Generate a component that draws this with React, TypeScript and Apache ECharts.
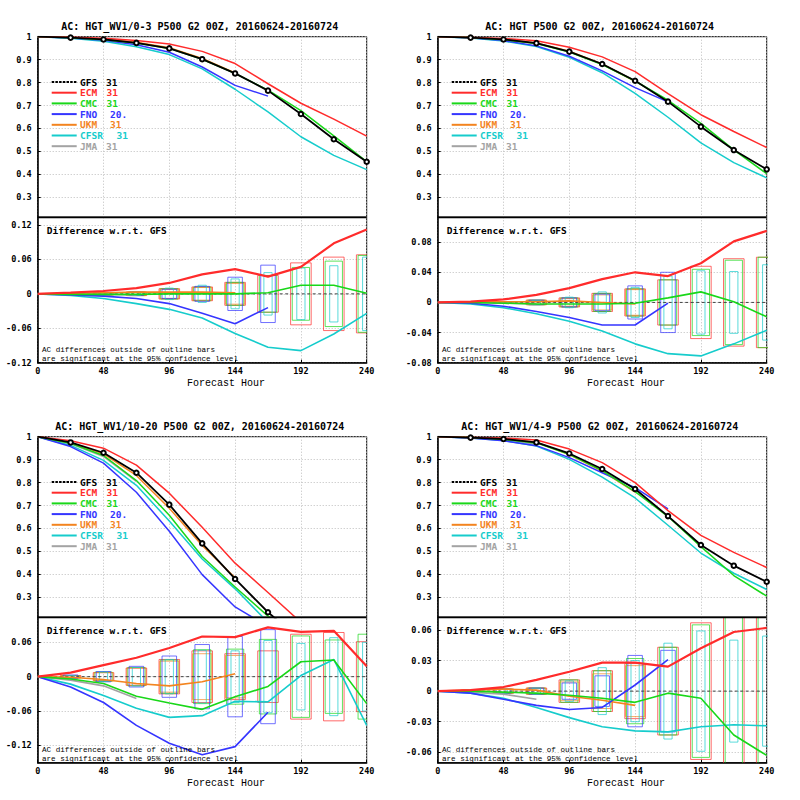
import React, { useEffect, useRef } from 'react';
import * as echarts from 'echarts';

// ---------------- data ----------------
const HOURS = [0, 24, 48, 72, 96, 120, 144, 168, 192, 216, 240];
const BOX_HOURS = [24, 48, 72, 96, 120, 144, 168, 192, 216, 240];
const AC_TICKS = [0.3, 0.4, 0.5, 0.6, 0.7, 0.8, 0.9, 1];
const CASE_COUNTS = ['31', '31', '31', '20.', '31', '31', '31'];
const MODEL_NAMES = ['GFS', 'ECM', 'CMC', 'FNO', 'UKM', 'CFSR', 'JMA'];

// Panel 1: HGT_WV1/0-3
const P1_TITLE = 'AC: HGT_WV1/0-3 P500 G2 00Z, 20160624-20160724';
const P1_GFS = [1, 0.996, 0.988, 0.973, 0.949, 0.902, 0.84, 0.765, 0.663, 0.553, 0.455];
const P1_ECM_DIFF = [0, 0.002, 0.005, 0.01, 0.019, 0.034, 0.043, 0.03, 0.047, 0.088, 0.112];
const P1_CMC_DIFF = [0, -0.001, -0.001, -0.001, 0, 0, 0, 0.002, 0.015, 0.015, 0.001];
const P1_FNO_DIFF = [0, -0.002, -0.004, -0.008, -0.017, -0.034, -0.052, -0.024];
const P1_UKM_DIFF = [0, 0.001, 0.002, 0.003, 0.003, 0.003, 0.002];
const P1_CFSR_DIFF = [0, -0.003, -0.008, -0.017, -0.027, -0.042, -0.069, -0.093, -0.099, -0.07, -0.034];
const P1_JMA_DIFF = [0, 0, -0.001, -0.002];
const P1_ECM_CONF = [0.001, 0.002, 0.003, 0.009, 0.012, 0.02, 0.032, 0.054, 0.064, 0.068];
const P1_CMC_CONF = [0.001, 0.002, 0.003, 0.009, 0.012, 0.02, 0.032, 0.046, 0.057, 0.067];
const P1_FNO_CONF = [0.001, 0.002, 0.003, 0.008, 0.013, 0.029, 0.05];
const P1_UKM_CONF = [0.001, 0.002, 0.003, 0.008, 0.011, 0.018];
const P1_CFSR_CONF = [0.001, 0.002, 0.003, 0.01, 0.015, 0.026, 0.037, 0.045, 0.049, 0.064];
const P1_DIFF_TICKS = [-0.12, -0.06, 0, 0.06, 0.12];

// Panel 2: HGT
const P2_TITLE = 'AC: HGT P500 G2 00Z, 20160624-20160724';
const P2_GFS = [1, 0.996, 0.988, 0.972, 0.935, 0.881, 0.808, 0.717, 0.608, 0.506, 0.422];
const P2_ECM_DIFF = [0, 0.001, 0.004, 0.01, 0.019, 0.031, 0.04, 0.035, 0.052, 0.081, 0.095];
const P2_CMC_DIFF = [0, 0, -0.001, -0.002, -0.002, -0.002, -0.001, 0.006, 0.014, 0.001, -0.019];
const P2_FNO_DIFF = [0, -0.001, -0.005, -0.012, -0.02, -0.03, -0.03, -0.001];
const P2_UKM_DIFF = [0, 0.001, 0.001, 0.001, 0.002, 0, -0.002];
const P2_CFSR_DIFF = [0, -0.002, -0.007, -0.015, -0.025, -0.038, -0.055, -0.068, -0.071, -0.055, -0.037];
const P2_JMA_DIFF = [0, 0, -0.001, -0.002];
const P2_ECM_CONF = [0.001, 0.001, 0.003, 0.006, 0.012, 0.018, 0.03, 0.048, 0.058, 0.06];
const P2_CMC_CONF = [0.001, 0.001, 0.003, 0.006, 0.012, 0.018, 0.03, 0.044, 0.056, 0.06];
const P2_FNO_CONF = [0.001, 0.001, 0.003, 0.006, 0.011, 0.022, 0.04];
const P2_UKM_CONF = [0.001, 0.001, 0.003, 0.005, 0.01, 0.017];
const P2_CFSR_CONF = [0.001, 0.001, 0.003, 0.007, 0.014, 0.02, 0.035, 0.042, 0.041, 0.05];
const P2_DIFF_TICKS = [-0.08, -0.04, 0, 0.04, 0.08];

// Panel 3: HGT_WV1/10-20
const P3_TITLE = 'AC: HGT_WV1/10-20 P500 G2 00Z, 20160624-20160724';
const P3_GFS = [1, 0.975, 0.93, 0.843, 0.704, 0.535, 0.38, 0.235, 0.113, 0.05, 0.01];
const P3_ECM_DIFF = [0, 0.007, 0.02, 0.033, 0.05, 0.07, 0.069, 0.086, 0.078, 0.08, 0.018];
const P3_CMC_DIFF = [0, -0.004, -0.012, -0.034, -0.046, -0.057, -0.035, -0.017, 0.026, 0.029, -0.047];
const P3_FNO_DIFF = [0, -0.018, -0.045, -0.085, -0.116, -0.136, -0.122, -0.062];
const P3_UKM_DIFF = [0, -0.001, -0.005, -0.012, -0.016, -0.009, 0.005];
const P3_CFSR_DIFF = [0, -0.013, -0.033, -0.055, -0.071, -0.068, -0.043, -0.044, 0.002, 0.03, -0.085];
const P3_JMA_DIFF = [0, -0.006, -0.016, -0.038];
const P3_ECM_CONF = [0.002, 0.007, 0.015, 0.03, 0.045, 0.04, 0.045, 0.074, 0.077, 0.061];
const P3_CMC_CONF = [0.002, 0.008, 0.016, 0.029, 0.047, 0.048, 0.065, 0.071, 0.064, 0.074];
const P3_FNO_CONF = [0.003, 0.009, 0.018, 0.036, 0.056, 0.07, 0.082];
const P3_UKM_CONF = [0.002, 0.007, 0.015, 0.027, 0.04, 0.037];
const P3_CFSR_CONF = [0.002, 0.008, 0.016, 0.03, 0.046, 0.045, 0.063, 0.058, 0.068, 0.06];
const P3_DIFF_TICKS = [-0.12, -0.06, 0, 0.06];

// Panel 4: HGT_WV1/4-9
const P4_TITLE = 'AC: HGT_WV1/4-9 P500 G2 00Z, 20160624-20160724';
const P4_GFS = [1, 0.996, 0.99, 0.975, 0.927, 0.859, 0.772, 0.654, 0.528, 0.438, 0.368];
const P4_ECM_DIFF = [0, 0.001, 0.004, 0.011, 0.019, 0.028, 0.028, 0.024, 0.042, 0.058, 0.062];
const P4_CMC_DIFF = [0, 0, -0.001, -0.002, -0.004, -0.007, -0.011, -0.002, -0.007, -0.043, -0.063];
const P4_FNO_DIFF = [0, -0.002, -0.008, -0.014, -0.018, -0.016, 0.006, 0.031];
const P4_UKM_DIFF = [0, 0.001, 0.002, 0.001, -0.005, -0.009, -0.014];
const P4_CFSR_DIFF = [0, -0.002, -0.007, -0.016, -0.026, -0.035, -0.039, -0.04, -0.035, -0.033, -0.034];
const P4_JMA_DIFF = [0, -0.001, -0.003, -0.008];
const P4_ECM_CONF = [0.001, 0.002, 0.003, 0.011, 0.02, 0.027, 0.043, 0.067, 0.12, 0.12];
const P4_CMC_CONF = [0.001, 0.002, 0.003, 0.011, 0.02, 0.032, 0.043, 0.065, 0.12, 0.12];
const P4_FNO_CONF = [0.001, 0.002, 0.003, 0.008, 0.015, 0.035, 0.04];
const P4_UKM_CONF = [0.001, 0.002, 0.003, 0.009, 0.017, 0.025];
const P4_CFSR_CONF = [0.001, 0.002, 0.003, 0.01, 0.023, 0.03, 0.047, 0.059, 0.05, 0.054];
const P4_DIFF_TICKS = [-0.06, -0.03, 0, 0.03, 0.06];

// ---------------- styling / layout ----------------
const COLORS: Record<string, string> = {
  GFS: '#000000', ECM: '#ff2b2b', CMC: '#19d719', FNO: '#3535ff',
  UKM: '#f3841f', CFSR: '#16cccc', JMA: '#a3a3a3',
};
const BOX_HALF_W: Record<string, number> = { ECM: 7.5, UKM: 7, CMC: 6.3, FNO: 5.3, CFSR: 3 };
const COUNT_X = [106, 106.5, 106.5, 110, 110, 116.5, 106];

const PANELS = [
  { ox: 0, oy: 0, title: P1_TITLE, gfs: P1_GFS, acMin: 0.213, dMin: -0.12, dMax: 0.1334, dTicks: P1_DIFF_TICKS,
    diffs: { ECM: P1_ECM_DIFF, CMC: P1_CMC_DIFF, FNO: P1_FNO_DIFF, UKM: P1_UKM_DIFF, CFSR: P1_CFSR_DIFF, JMA: P1_JMA_DIFF },
    conf: { ECM: P1_ECM_CONF, CMC: P1_CMC_CONF, FNO: P1_FNO_CONF, UKM: P1_UKM_CONF, CFSR: P1_CFSR_CONF } },
  { ox: 400, oy: 0, title: P2_TITLE, gfs: P2_GFS, acMin: 0.213, dMin: -0.08, dMax: 0.113, dTicks: P2_DIFF_TICKS,
    diffs: { ECM: P2_ECM_DIFF, CMC: P2_CMC_DIFF, FNO: P2_FNO_DIFF, UKM: P2_UKM_DIFF, CFSR: P2_CFSR_DIFF, JMA: P2_JMA_DIFF },
    conf: { ECM: P2_ECM_CONF, CMC: P2_CMC_CONF, FNO: P2_FNO_CONF, UKM: P2_UKM_CONF, CFSR: P2_CFSR_CONF } },
  { ox: 0, oy: 400, title: P3_TITLE, gfs: P3_GFS, acMin: 0.213, dMin: -0.15, dMax: 0.1035, dTicks: P3_DIFF_TICKS,
    diffs: { ECM: P3_ECM_DIFF, CMC: P3_CMC_DIFF, FNO: P3_FNO_DIFF, UKM: P3_UKM_DIFF, CFSR: P3_CFSR_DIFF, JMA: P3_JMA_DIFF },
    conf: { ECM: P3_ECM_CONF, CMC: P3_CMC_CONF, FNO: P3_FNO_CONF, UKM: P3_UKM_CONF, CFSR: P3_CFSR_CONF } },
  { ox: 400, oy: 400, title: P4_TITLE, gfs: P4_GFS, acMin: 0.213, dMin: -0.0702, dMax: 0.0724, dTicks: P4_DIFF_TICKS,
    diffs: { ECM: P4_ECM_DIFF, CMC: P4_CMC_DIFF, FNO: P4_FNO_DIFF, UKM: P4_UKM_DIFF, CFSR: P4_CFSR_DIFF, JMA: P4_JMA_DIFF },
    conf: { ECM: P4_ECM_CONF, CMC: P4_CMC_CONF, FNO: P4_FNO_CONF, UKM: P4_UKM_CONF, CFSR: P4_CFSR_CONF } },
];

const PLOT_LEFT = 37.7;
const PLOT_W = 329;
const TOP_Y = 36.7;
const SEP_Y = 217.3;
const BOT_Y = 362.7;
const BOLD_FONT = '"DejaVu Sans Mono", monospace';

const fmt = (v: number) => String(Math.round(v * 1000) / 1000);

function buildOption() {
  const grid: any[] = [];
  const xAxis: any[] = [];
  const yAxis: any[] = [];
  const series: any[] = [];
  const graphic: any[] = [];

  const splitLine = { show: true, lineStyle: { color: '#bdbdbd', type: [1, 2], width: 1 } };

  PANELS.forEach((p, pi) => {
    const ti = pi * 2;
    const bi = pi * 2 + 1;
    grid.push({ left: p.ox + PLOT_LEFT, top: p.oy + TOP_Y, width: PLOT_W, height: SEP_Y - TOP_Y,
      show: true, borderColor: '#000', borderWidth: 1, containLabel: false });
    grid.push({ left: p.ox + PLOT_LEFT, top: p.oy + SEP_Y, width: PLOT_W, height: BOT_Y - SEP_Y,
      show: true, borderColor: '#000', borderWidth: 1, containLabel: false });

    xAxis.push({ type: 'value', gridIndex: ti, min: 0, max: 240, interval: 48,
      axisLine: { show: false, onZero: false }, axisTick: { show: false }, axisLabel: { show: false }, splitLine });
    xAxis.push({ type: 'value', gridIndex: bi, min: 0, max: 240, interval: 48,
      axisLine: { show: true, onZero: false, lineStyle: { color: '#000', width: 1.5 } },
      axisTick: { show: true, inside: true, length: 3, lineStyle: { color: '#000' } },
      axisLabel: { show: true, margin: 4, color: '#000', fontSize: 8.5, fontWeight: 'bold', fontFamily: BOLD_FONT },
      splitLine });

    yAxis.push({ type: 'value', gridIndex: ti, min: p.acMin, max: 1,
      axisLine: { show: true, onZero: false, lineStyle: { color: '#000', width: 1.5 } },
      axisTick: { show: true, inside: true, length: 3, customValues: AC_TICKS, lineStyle: { color: '#000' } },
      axisLabel: { show: true, margin: 6, customValues: AC_TICKS, formatter: (v: number) => fmt(v),
        color: '#000', fontSize: 8.5, fontWeight: 'bold', fontFamily: BOLD_FONT },
      splitLine });
    yAxis.push({ type: 'value', gridIndex: bi, min: p.dMin, max: p.dMax,
      axisLine: { show: true, onZero: false, lineStyle: { color: '#000', width: 1.5 } },
      axisTick: { show: true, inside: true, length: 3, customValues: p.dTicks, lineStyle: { color: '#000' } },
      axisLabel: { show: true, margin: 6, customValues: p.dTicks, formatter: (v: number) => fmt(v),
        color: '#000', fontSize: 8.5, fontWeight: 'bold', fontFamily: BOLD_FONT },
      splitLine });

    // confidence boxes
    (['ECM', 'CMC', 'UKM', 'FNO', 'CFSR'] as const).forEach((m) => {
      const conf = (p.conf as any)[m] as number[];
      const hw = BOX_HALF_W[m];
      series.push({
        type: 'custom', xAxisIndex: bi, yAxisIndex: bi, clip: true, silent: true, z: 1,
        data: conf.map((c, i) => [BOX_HOURS[i], c]),
        renderItem: (params: any, api: any) => {
          const h = api.value(0);
          const c = api.value(1);
          const a = api.coord([h - hw, c]);
          const b = api.coord([h + hw, -c]);
          return {
            type: 'rect',
            shape: { x: a[0], y: a[1], width: b[0] - a[0], height: b[1] - a[1] },
            style: { fill: 'none', stroke: COLORS[m], lineWidth: 1, opacity: 0.7 },
          };
        },
      });
    });

    // zero line (GFS - GFS)
    series.push({
      type: 'line', xAxisIndex: bi, yAxisIndex: bi, z: 3, symbol: 'none', silent: true,
      data: HOURS.map((h, i) => [h, p.gfs[i] - p.gfs[i]]),
      lineStyle: { color: '#444', width: 1, type: [3, 2.5] },
    });

    // model lines
    const order = ['JMA', 'CFSR', 'UKM', 'FNO', 'CMC', 'ECM'];
    order.forEach((m) => {
      const d = (p.diffs as any)[m] as number[];
      series.push({
        type: 'line', xAxisIndex: ti, yAxisIndex: ti, z: 4, symbol: 'none', silent: true,
        data: d.map((v, i) => [HOURS[i], Math.round((p.gfs[i] + v) * 10000) / 10000]),
        lineStyle: { color: COLORS[m], width: 1.5 },
      });
      series.push({
        type: 'line', xAxisIndex: bi, yAxisIndex: bi, z: 4, symbol: 'none', silent: true,
        data: d.map((v, i) => [HOURS[i], v]),
        lineStyle: { color: COLORS[m], width: m === 'ECM' ? 2.2 : 1.6 },
      });
    });
    series.push({
      type: 'line', xAxisIndex: ti, yAxisIndex: ti, z: 5, silent: true,
      symbol: 'emptyCircle', symbolSize: 4.5,
      data: HOURS.map((h, i) => (i === 0 ? { value: [h, p.gfs[i]], symbol: 'none' } : [h, p.gfs[i]])),
      lineStyle: { color: '#000', width: 1.8 },
      itemStyle: { color: '#000', borderColor: '#000', borderWidth: 1.1 },
    });

    // separator line
    graphic.push({ type: 'line', z: 100, shape: { x1: p.ox + PLOT_LEFT, y1: p.oy + SEP_Y, x2: p.ox + PLOT_LEFT + PLOT_W, y2: p.oy + SEP_Y },
      style: { stroke: '#000', lineWidth: 1.8 } });

    // title
    graphic.push({ type: 'text', x: p.ox + 199.7, y: p.oy + 26.7, z: 100,
      style: { text: p.title, font: `bold 10px ${BOLD_FONT}`, fill: '#000', align: 'center', verticalAlign: 'middle',
        textAlign: 'center', textVerticalAlign: 'middle' } });

    // legend
    MODEL_NAMES.forEach((m, k) => {
      const y = p.oy + 82 + k * 10.7;
      graphic.push({ type: 'line', z: 100, shape: { x1: p.ox + 51.7, y1: y, x2: p.ox + 76.7, y2: y },
        style: { stroke: COLORS[m], lineWidth: 2, lineDash: m === 'GFS' ? [2.5, 1.2] : null } });
      graphic.push({ type: 'text', z: 100, x: p.ox + 80, y,
        style: { text: m, font: `bold 9.5px ${BOLD_FONT}`, fill: COLORS[m], align: 'left', verticalAlign: 'middle',
          textAlign: 'left', textVerticalAlign: 'middle' } });
      graphic.push({ type: 'text', z: 100, x: p.ox + COUNT_X[k], y,
        style: { text: CASE_COUNTS[k], font: `bold 9.5px ${BOLD_FONT}`, fill: COLORS[m], align: 'left', verticalAlign: 'middle',
          textAlign: 'left', textVerticalAlign: 'middle' } });
    });

    // difference label
    graphic.push({ type: 'text', z: 100, x: p.ox + 46.7, y: p.oy + 230.7,
      style: { text: 'Difference w.r.t. GFS', font: `bold 9.5px ${BOLD_FONT}`, fill: '#000', align: 'left', verticalAlign: 'middle',
        textAlign: 'left', textVerticalAlign: 'middle' } });
    // note
    graphic.push({ type: 'text', z: 100, x: p.ox + 42, y: p.oy + 350.3,
      style: { text: 'AC differences outside of outline bars', font: '7.6px "Liberation Mono", monospace', fill: '#000',
        align: 'left', verticalAlign: 'middle', textAlign: 'left', textVerticalAlign: 'middle' } });
    graphic.push({ type: 'text', z: 100, x: p.ox + 42, y: p.oy + 358.8,
      style: { text: 'are significant at the 95% confidence level', font: '7.6px "Liberation Mono", monospace', fill: '#000',
        align: 'left', verticalAlign: 'middle', textAlign: 'left', textVerticalAlign: 'middle' } });
    // x-axis name
    graphic.push({ type: 'text', z: 100, x: p.ox + 226, y: p.oy + 383.5,
      style: { text: 'Forecast Hour', font: '10px "Liberation Mono", monospace', fill: '#000',
        align: 'center', verticalAlign: 'middle', textAlign: 'center', textVerticalAlign: 'middle' } });
  });

  return { animation: false, backgroundColor: '#fff', grid, xAxis, yAxis, series, graphic };
}

export default function App() {
  const ref = useRef<HTMLDivElement>(null);
  useEffect(() => {
    if (!ref.current) return;
    const chart = echarts.init(ref.current, undefined, { renderer: 'svg' });
    chart.setOption(buildOption() as any);
    return () => chart.dispose();
  }, []);
  return (
    <div
      ref={ref}
      style={{ position: 'absolute', left: 0, top: 0, width: 800, height: 800, background: '#fff' }}
    />
  );
}
